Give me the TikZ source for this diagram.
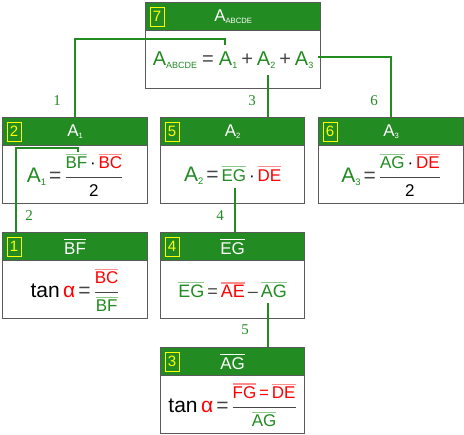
\documentclass[tikz,border=0pt]{standalone}
\usepackage{fontspec}
\setmainfont{Liberation Sans}
\newfontfamily\stepfont{Liberation Serif}
\usepackage{amsmath}
\usetikzlibrary{positioning}

\definecolor{headgreen}{RGB}{34,139,34}
\definecolor{seggreen}{RGB}{34,139,34}
\definecolor{lightgreen}{RGB}{140,200,140}
\definecolor{segred}{RGB}{255,0,0}
\definecolor{lightred}{RGB}{255,140,140}
\definecolor{tagyellow}{RGB}{255,255,0}
\definecolor{framegray}{RGB}{90,90,90}
\definecolor{opgray}{RGB}{70,70,70}

% segment names with a coloured bar on top
\newcommand\seg[3]{\leavevmode\vbox{\color{#2}\hrule height 1.2pt\kern 2pt\hbox{\color{#1}#3}}}
\newcommand\gseg[1]{\seg{seggreen}{lightgreen}{#1}}
\newcommand\rseg[1]{\seg{segred}{lightred}{#1}}
\newcommand\wseg[1]{\seg{white}{white}{#1}}
\newcommand\sub[1]{\raisebox{-.15em}{\scalebox{0.45}{#1}}}
\newcommand\segsize{\fontsize{17}{20}\selectfont}
\newcommand\fr[2]{\textcolor{opgray}{$\genfrac{}{}{1.2pt}{0}{\hbox{\segsize #1}}{\hbox{\segsize #2}}$}}
\newcommand\op[2][3pt]{\hspace{#1}\textcolor{opgray}{#2}\hspace{#1}}

\begin{document}
\begin{tikzpicture}[
  x=1pt,
  y=-1pt,
  panel/.style={draw=framegray, line width=1.2pt, fill=white, anchor=north west,
    inner sep=0pt, minimum height=86pt},
  head/.style={draw=framegray, line width=1.2pt, fill=headgreen, anchor=north,
    inner sep=0pt, minimum height=28pt, text=white, font=\fontsize{17}{20}\selectfont},
  tag/.style={draw=tagyellow, line width=0.9pt, text=tagyellow, inner sep=0pt,
    minimum width=14pt, minimum height=19pt, font=\fontsize{15}{15}\selectfont},
  formula/.style={inner sep=0pt, text=seggreen, font=\fontsize{21}{25}\selectfont},
  link/.style={draw=seggreen, line width=1.8pt},
  steplabel/.style={text=seggreen, inner sep=0pt, font=\stepfont\fontsize{15}{15}\selectfont}
]
  \useasboundingbox (0,0) rectangle (464,435);

  % boxes
  \node[panel, minimum width=175pt] (p7) at (145,2) {};
  \node[head, minimum width=175pt] (h7) at (p7.north) {A\sub{ABCDE}};
  \node[tag] (t7) at ([xshift=12pt]h7.west) {7};
  \node[formula, font=\fontsize{20}{24}\selectfont] (f7) at ([yshift=-29pt]h7.south)
    {A\sub{ABCDE}\op[5pt]{=}A\sub{1}\op[4pt]{+}A\sub{2}\op[4pt]{+}A\sub{3}};

  \node[panel, minimum width=145pt] (p2) at (2,117) {};
  \node[head, minimum width=145pt] (h2) at (p2.north) {A\sub{1}};
  \node[tag] (t2) at ([xshift=12pt]h2.west) {2};
  \node[formula] (f2) at ([yshift=-29pt]h2.south)
    {A\sub{1}\op{=}\fr{\gseg{BF}\,\textcolor{black}{·}\,\rseg{BC}}{\textcolor{black}{2}}};

  \node[panel, minimum width=144pt] (p5) at (160,117) {};
  \node[head, minimum width=144pt] (h5) at (p5.north) {A\sub{2}};
  \node[tag] (t5) at ([xshift=12pt]h5.west) {5};
  \node[formula] (f5) at ([yshift=-29pt]h5.south)
    {A\sub{2}\op{=}{\segsize\gseg{EG}\,\textcolor{black}{·}\,\rseg{DE}}};

  \node[panel, minimum width=145pt] (p6) at (318,117) {};
  \node[head, minimum width=145pt] (h6) at (p6.north) {A\sub{3}};
  \node[tag] (t6) at ([xshift=12pt]h6.west) {6};
  \node[formula] (f6) at ([yshift=-29pt]h6.south)
    {A\sub{3}\op{=}\fr{\gseg{AG}\,\textcolor{black}{·}\,\rseg{DE}}{\textcolor{black}{2}}};

  \node[panel, minimum width=145pt] (p1) at (2,232) {};
  \node[head, minimum width=145pt] (h1) at (p1.north) {\wseg{BF}};
  \node[tag] (t1) at ([xshift=12pt]h1.west) {1};
  \node[formula] (f1) at ([yshift=-29pt]h1.south)
    {\textcolor{black}{tan}\,\textcolor{segred}{α}\op{=}\fr{\rseg{BC}}{\gseg{BF}}};

  \node[panel, minimum width=144pt] (p4) at (160,232) {};
  \node[head, minimum width=144pt] (h4) at (p4.north) {\wseg{EG}};
  \node[tag] (t4) at ([xshift=12pt]h4.west) {4};
  \node[formula, font=\fontsize{18}{22}\selectfont] (f4) at ([yshift=-29pt]h4.south)
    {\gseg{EG}\,\textcolor{opgray}{=}\,\rseg{AE}\,\textcolor{opgray}{–}\,\gseg{AG}};

  \node[panel, minimum width=144pt] (p3) at (160,347) {};
  \node[head, minimum width=144pt] (h3) at (p3.north) {\wseg{AG}};
  \node[tag] (t3) at ([xshift=12pt]h3.west) {3};
  \node[formula] (f3) at ([yshift=-29pt]h3.south)
    {\textcolor{black}{tan}\,\textcolor{segred}{α}\op{=}\fr{\rseg{FG}\,\textcolor{segred}{=}\,\rseg{DE}}{\gseg{AG}}};

  % connectors
  \coordinate (e1) at (225,45);
  \coordinate (k1) at (225,39);
  \draw[link] (e1) -- (k1) -| (h2.north);
  \coordinate (e2) at (78,152);
  \coordinate (k2) at (78,148);
  \draw[link] (e2) -- (k2) -| ([xshift=14pt]p1.north west);
  \coordinate (e3) at (268,75);
  \draw[link] (e3) -- (e3 |- h5.north);
  \coordinate (e6) at (318,57);
  \draw[link] (e6) -| (h6.north);
  \coordinate (e4) at (235,188);
  \draw[link] (e4) -- (e4 |- h4.north);
  \coordinate (e5) at (268,303);
  \draw[link] (e5) -- (e5 |- h3.north);

  \node[steplabel] (n1) at (57,101) {1};
  \node[steplabel] (n2) at (29,216) {2};
  \node[steplabel] (n3) at (252,101) {3};
  \node[steplabel] (n4) at (220,216) {4};
  \node[steplabel] (n5) at (245,330) {5};
  \node[steplabel] (n6) at (374,101) {6};
\end{tikzpicture}
\end{document}
